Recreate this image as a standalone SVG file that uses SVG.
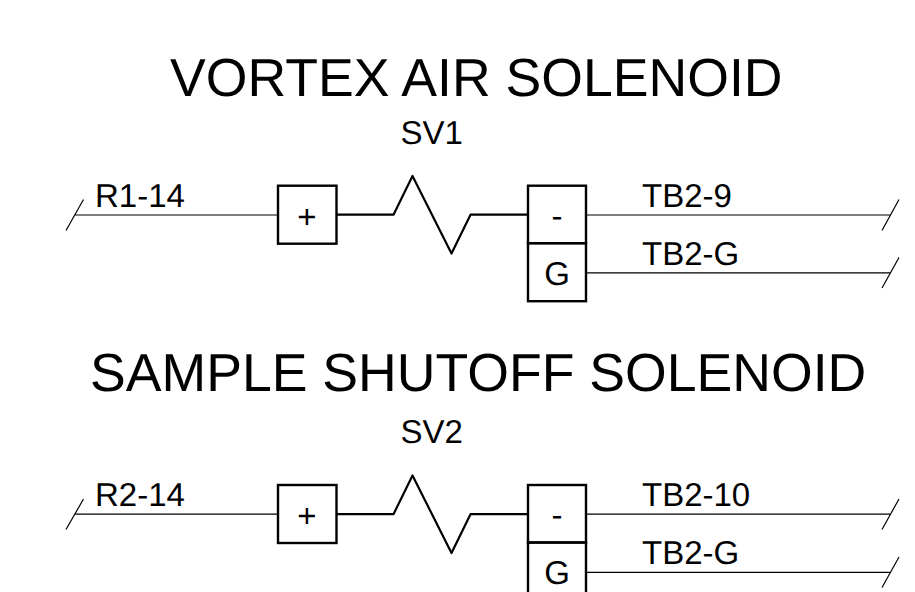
<svg xmlns="http://www.w3.org/2000/svg" width="915" height="592" viewBox="0 0 915 592">
<style>
text{font-family:"Liberation Sans",Arial,sans-serif;fill:#000;text-rendering:geometricPrecision}
.t{font-size:53.6px}
.l{font-size:33px}
.c{text-anchor:middle}
.box{fill:none;stroke:#000;stroke-width:2.4}
.w{fill:none;stroke:#000;stroke-width:1.2}
.z{fill:none;stroke:#000;stroke-width:2.2;stroke-linejoin:round}
</style>
<rect width="915" height="592" fill="#fff"/>
<text class="t" x="170" y="96">VORTEX AIR SOLENOID</text>
<text class="l" x="400.5" y="144">SV1</text>
<text class="t" x="90" y="391">SAMPLE SHUTOFF SOLENOID</text>
<text class="l" x="400.5" y="442.5">SV2</text>
<g id="connectors">
<path class="w" d="M75 215H278M66 230.5L83.5 199.5"/>
<path class="w" d="M586 215H890M882 230.5L899 199.5"/>
<path class="w" d="M586 272.8H890M882 288L899 257.5"/>
<path class="z" d="M336.5 214.7H393.5L412.5 176L451.5 253.5L470.5 214.7H528"/>
<path class="w" d="M75 514.2H278M66 529.5L83.5 499"/>
<path class="w" d="M586 514.2H890M882 529.5L899 499"/>
<path class="w" d="M586 572.3H890M882 587.5L899 557"/>
<path class="z" d="M336.5 514.2H393.5L412.5 475.5L451.5 553L470.5 514.2H528"/>
</g>
<g id="label-r1"><text class="l" x="95" y="207">R1-14</text></g>
<g id="label-tb2-9"><text class="l" x="642" y="207">TB2-9</text></g>
<g id="label-tb2-g1"><text class="l" x="642" y="265">TB2-G</text></g>
<g id="label-r2"><text class="l" x="95" y="506">R2-14</text></g>
<g id="label-tb2-10"><text class="l" x="642" y="506">TB2-10</text></g>
<g id="label-tb2-g2"><text class="l" x="642" y="564">TB2-G</text></g>
<g id="sv1-plus"><rect class="box" x="278" y="185.7" width="58.5" height="58"/><text class="l c" x="307" y="227.5">+</text></g>
<g id="sv1-minus"><rect class="box" x="528" y="185.7" width="58" height="57.5"/><text class="l c" x="557" y="227">-</text></g>
<g id="sv1-g"><rect class="box" x="528" y="243.2" width="58" height="58"/><text class="l c" x="557" y="284.5">G</text></g>
<g id="sv2-plus"><rect class="box" x="278" y="485" width="58.5" height="58"/><text class="l c" x="307" y="526.5">+</text></g>
<g id="sv2-minus"><rect class="box" x="528" y="485" width="58" height="57.5"/><text class="l c" x="557" y="526">-</text></g>
<g id="sv2-g"><rect class="box" x="528" y="542.5" width="58" height="58"/><text class="l c" x="557" y="584">G</text></g>
</svg>
